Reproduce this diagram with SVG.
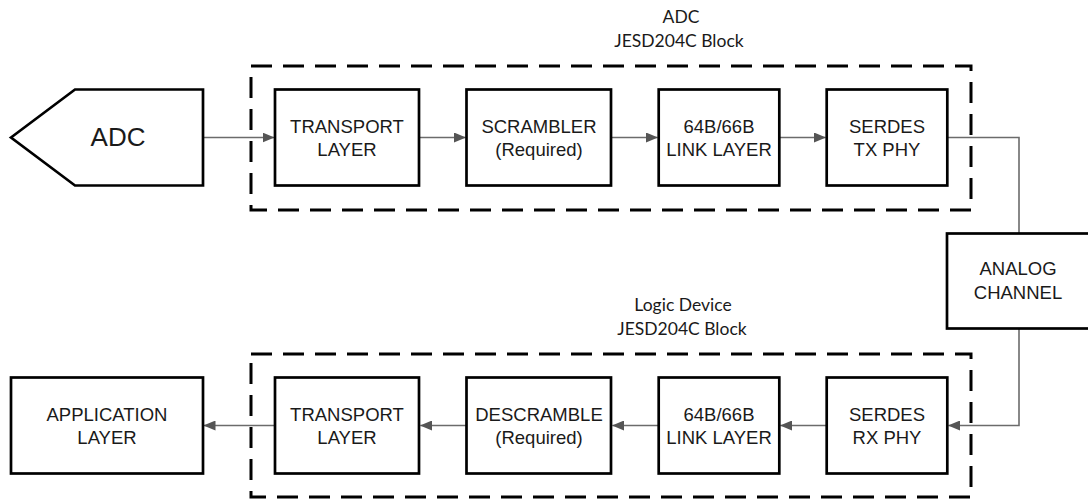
<svg xmlns="http://www.w3.org/2000/svg" width="1088" height="501" viewBox="0 0 1088 501">
<style>
.box{fill:#fff;stroke:#000;stroke-width:2.7}
.dash{fill:none;stroke:#000;stroke-width:3;stroke-dasharray:21 11}
.t{font-family:"Liberation Sans",Arial,sans-serif;font-size:18.5px;fill:#1a1a1a;text-anchor:middle}
.big{font-size:26px}
.lbl{font-family:Lato,"Open Sans",sans-serif;font-size:17.5px;fill:#1a1a1a;text-anchor:middle}
.c{fill:none;stroke:#6b6b6b;stroke-width:1.6}
</style>
<defs>
<marker id="ah" markerWidth="12" markerHeight="10" refX="11.5" refY="5" orient="auto" markerUnits="userSpaceOnUse">
<path d="M0,0 L12,5 L0,10 Z" fill="#555"/>
</marker>
</defs>
<g id="adc-block-frame">
<rect class="dash" x="251" y="66" width="720" height="144"/>
<text class="lbl" x="681" y="23">ADC</text>
<text class="lbl" x="679" y="47">JESD204C Block</text>
</g>
<g id="logic-block-frame">
<rect class="dash" x="251" y="354" width="720" height="143"/>
<text class="lbl" x="683" y="311">Logic Device</text>
<text class="lbl" x="682" y="335">JESD204C Block</text>
</g>
<g id="connectors">
<line class="c" x1="203" y1="137.5" x2="274" y2="137.5" marker-end="url(#ah)"/>
<line class="c" x1="419" y1="137.5" x2="465.5" y2="137.5" marker-end="url(#ah)"/>
<line class="c" x1="611" y1="137.5" x2="657.5" y2="137.5" marker-end="url(#ah)"/>
<line class="c" x1="779" y1="137.5" x2="825.5" y2="137.5" marker-end="url(#ah)"/>
<polyline class="c" points="947,137.5 1019,137.5 1019,233.5"/>
<polyline class="c" points="1019,328.5 1019,425.5 948.5,425.5" marker-end="url(#ah)"/>
<line class="c" x1="827" y1="425.5" x2="780.5" y2="425.5" marker-end="url(#ah)"/>
<line class="c" x1="659" y1="425.5" x2="612.5" y2="425.5" marker-end="url(#ah)"/>
<line class="c" x1="466.5" y1="425.5" x2="420.5" y2="425.5" marker-end="url(#ah)"/>
<line class="c" x1="275" y1="425.5" x2="204" y2="425.5" marker-end="url(#ah)"/>
</g>
<g id="adc">
<polygon class="box" points="11,137.5 75,89.5 203,89.5 203,185.5 75,185.5"/>
<text class="t big" x="118" y="146">ADC</text>
</g>
<g id="tx-transport">
<rect class="box" x="275" y="89.5" width="144" height="96"/>
<text class="t" x="347" y="133">TRANSPORT</text>
<text class="t" x="347" y="155.5">LAYER</text>
</g>
<g id="scrambler">
<rect class="box" x="466.5" y="89.5" width="144.5" height="96"/>
<text class="t" x="539" y="133">SCRAMBLER</text>
<text class="t" x="539" y="155.5">(Required)</text>
</g>
<g id="tx-link">
<rect class="box" x="658.7" y="89.5" width="120.6" height="96"/>
<text class="t" x="719" y="133">64B/66B</text>
<text class="t" x="719" y="155.5">LINK LAYER</text>
</g>
<g id="serdes-tx">
<rect class="box" x="826.7" y="89.5" width="120.6" height="96"/>
<text class="t" x="887" y="133">SERDES</text>
<text class="t" x="887" y="155.5">TX PHY</text>
</g>
<g id="analog-channel">
<rect class="box" x="947" y="233.5" width="160" height="95"/>
<text class="t" x="1018" y="275">ANALOG</text>
<text class="t" x="1018" y="298.5">CHANNEL</text>
</g>
<g id="serdes-rx">
<rect class="box" x="826.7" y="377.5" width="120.6" height="96"/>
<text class="t" x="887" y="421">SERDES</text>
<text class="t" x="887" y="443.5">RX PHY</text>
</g>
<g id="rx-link">
<rect class="box" x="658.7" y="377.5" width="120.6" height="96"/>
<text class="t" x="719" y="421">64B/66B</text>
<text class="t" x="719" y="443.5">LINK LAYER</text>
</g>
<g id="descramble">
<rect class="box" x="466.5" y="377.5" width="144.5" height="96"/>
<text class="t" x="539" y="421">DESCRAMBLE</text>
<text class="t" x="539" y="443.5">(Required)</text>
</g>
<g id="rx-transport">
<rect class="box" x="275" y="377.5" width="144" height="96"/>
<text class="t" x="347" y="421">TRANSPORT</text>
<text class="t" x="347" y="443.5">LAYER</text>
</g>
<g id="application">
<rect class="box" x="11" y="377.5" width="192" height="96"/>
<text class="t" x="107" y="421">APPLICATION</text>
<text class="t" x="107" y="443.5">LAYER</text>
</g>
</svg>
